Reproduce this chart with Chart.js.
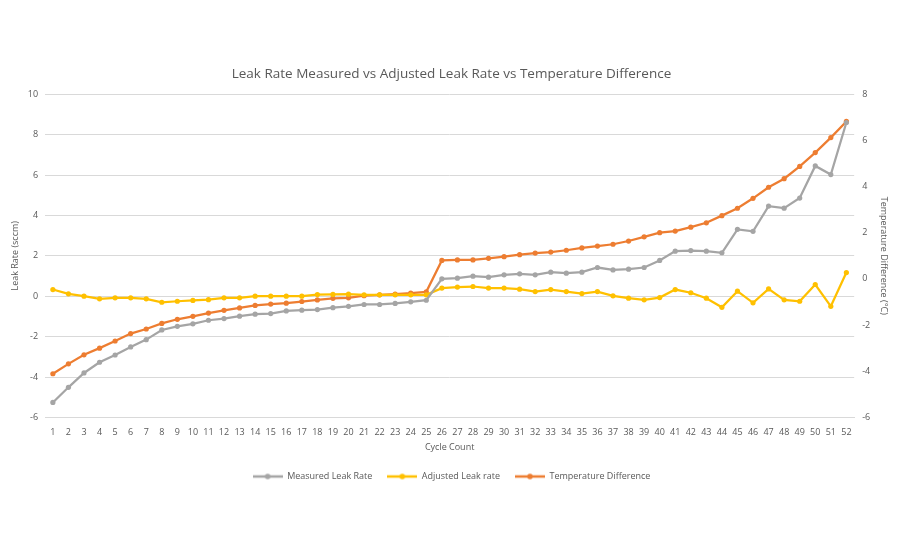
<!DOCTYPE html>
<html>
<head>
<meta charset="utf-8">
<script src="https://cdn.jsdelivr.net/npm/chart.js@4/dist/chart.umd.min.js"></script>
<style>
  body { margin: 0; background: #fff; }
  #wrap { width: 900px; height: 550px; }
</style>
</head>
<body>
<div id="wrap"><canvas id="chartLeak"></canvas></div>
<script>
// cycle numbers 1..52
const cycles = ['1','2','3','4','5','6','7','8','9','10','11','12','13','14','15','16','17','18','19','20',
  '21','22','23','24','25','26','27','28','29','30','31','32','33','34','35','36','37','38','39','40',
  '41','42','43','44','45','46','47','48','49','50','51','52'];

const measuredLeak = [-5.26, -4.51, -3.80, -3.27, -2.91, -2.51, -2.15, -1.67, -1.49, -1.37,
  -1.19, -1.11, -0.99, -0.89, -0.86, -0.73, -0.69, -0.66, -0.57, -0.50,
  -0.41, -0.41, -0.36, -0.28, -0.20, 0.86, 0.89, 0.99, 0.94, 1.06,
  1.11, 1.06, 1.19, 1.14, 1.19, 1.42, 1.30, 1.34, 1.42, 1.77,
  2.23, 2.26, 2.23, 2.15, 3.31, 3.21, 4.46, 4.36, 4.86, 6.45,
  6.02, 8.60];

const adjustedLeak = [0.33, 0.12, 0.00, -0.13, -0.08, -0.08, -0.13, -0.30, -0.25, -0.21,
  -0.17, -0.08, -0.08, 0.00, 0.00, 0.00, 0.00, 0.08, 0.09, 0.10,
  0.07, 0.07, 0.07, 0.07, 0.07, 0.40, 0.45, 0.48, 0.40, 0.40,
  0.35, 0.23, 0.33, 0.23, 0.13, 0.23, 0.02, -0.10, -0.18, -0.07,
  0.33, 0.17, -0.10, -0.55, 0.25, -0.33, 0.36, -0.18, -0.25, 0.58,
  -0.50, 1.17];

const tempDiff = [-4.11, -3.68, -3.29, -3.00, -2.69, -2.37, -2.17, -1.93, -1.75, -1.62,
  -1.48, -1.36, -1.26, -1.15, -1.09, -1.05, -0.98, -0.91, -0.84, -0.82,
  -0.73, -0.69, -0.66, -0.62, -0.56, 0.80, 0.82, 0.82, 0.89, 0.96,
  1.05, 1.12, 1.16, 1.24, 1.34, 1.42, 1.50, 1.64, 1.82, 2.00,
  2.07, 2.24, 2.43, 2.74, 3.06, 3.49, 3.97, 4.34, 4.87, 5.47,
  6.12, 6.82];

const textColor = '#595959';
const gridColor = '#d9d9d9';
const fontFamily = '"Open Sans", "Noto Sans", sans-serif';

// little line+dot picture for the legend, like Excel
function legendMark(color) {
    const c = document.createElement('canvas');
    c.width = 30; c.height = 10;
    const g = c.getContext('2d');
    g.strokeStyle = color;
    g.lineWidth = 2.5;
    g.beginPath(); g.moveTo(0, 5); g.lineTo(30, 5); g.stroke();
    g.fillStyle = color;
    g.beginPath(); g.arc(15, 5, 2.8, 0, Math.PI * 2); g.fill();
    return c;
}

function series(label, data, color, axis) {
    return {
        label: label,
        data: data,
        borderColor: color,
        backgroundColor: color,
        borderWidth: 2.25,
        pointRadius: 2.6,
        pointHoverRadius: 3,
        pointBackgroundColor: color,
        pointBorderWidth: 0,
        tension: 0,
        yAxisID: axis,
        pointStyle: 'circle'
    };
}

window.onload = function () {
    const ctx = document.getElementById('chartLeak').getContext('2d');
    const marks = [legendMark('#a5a5a5'), legendMark('#ffc000'), legendMark('#ed7d31')];
    new Chart(ctx, {
        type: 'line',
        data: {
            labels: cycles,
            datasets: [
                series('Measured Leak Rate', measuredLeak, '#a5a5a5', 'y'),
                series('Adjusted Leak rate', adjustedLeak, '#ffc000', 'y'),
                series('Temperature Difference', tempDiff, '#ed7d31', 'y1')
            ]
        },
        options: {
            responsive: true,
            maintainAspectRatio: false,
            animation: false,
            layout: {
                padding: { left: 10, right: 7, top: 66, bottom: 59 }
            },
            plugins: {
                title: {
                    display: true,
                    text: 'Leak Rate Measured vs Adjusted Leak Rate vs Temperature Difference',
                    color: textColor,
                    font: { family: fontFamily, size: 13.5, weight: 'normal' },
                    padding: { top: 0, bottom: 12 }
                },
                legend: {
                    position: 'bottom',
                    labels: {
                        color: textColor,
                        font: { family: fontFamily, size: 9 },
                        usePointStyle: true,
                        pointStyleWidth: 30,
                        padding: 15,
                        generateLabels: function (chart) {
                            return chart.data.datasets.map(function (ds, i) {
                                return {
                                    text: ds.label,
                                    fillStyle: ds.borderColor,
                                    strokeStyle: ds.borderColor,
                                    fontColor: textColor,
                                    pointStyle: marks[i],
                                    hidden: false,
                                    datasetIndex: i
                                };
                            });
                        }
                    }
                },
                tooltip: { enabled: false }
            },
            scales: {
                x: {
                    offset: true,
                    grid: { display: false },
                    border: { color: gridColor },
                    ticks: {
                        color: textColor,
                        font: { family: fontFamily, size: 9 },
                        autoSkip: false,
                        maxRotation: 0,
                        padding: 2
                    },
                    title: {
                        display: true,
                        text: 'Cycle Count',
                        color: textColor,
                        font: { family: fontFamily, size: 9 },
                        padding: { top: 2 }
                    }
                },
                y: {
                    position: 'left',
                    min: -6,
                    max: 10,
                    ticks: {
                        stepSize: 2,
                        color: textColor,
                        font: { family: fontFamily, size: 9 },
                        padding: 7
                    },
                    grid: { color: gridColor, drawTicks: false },
                    border: { display: false },
                    title: {
                        display: true,
                        text: 'Leak Rate (sccm)',
                        color: textColor,
                        font: { family: fontFamily, size: 9 },
                        padding: { top: 0, bottom: 0 }
                    }
                },
                y1: {
                    position: 'right',
                    min: -6,
                    max: 8,
                    ticks: {
                        stepSize: 2,
                        color: textColor,
                        font: { family: fontFamily, size: 9 },
                        padding: 8
                    },
                    grid: { display: false, drawTicks: false },
                    border: { display: false },
                    title: {
                        display: true,
                        text: 'Temperature Difference (°C)',
                        color: textColor,
                        font: { family: fontFamily, size: 9 },
                        padding: { top: 4, bottom: 0 }
                    }
                }
            }
        }
    });
}
</script>
</body>
</html>
